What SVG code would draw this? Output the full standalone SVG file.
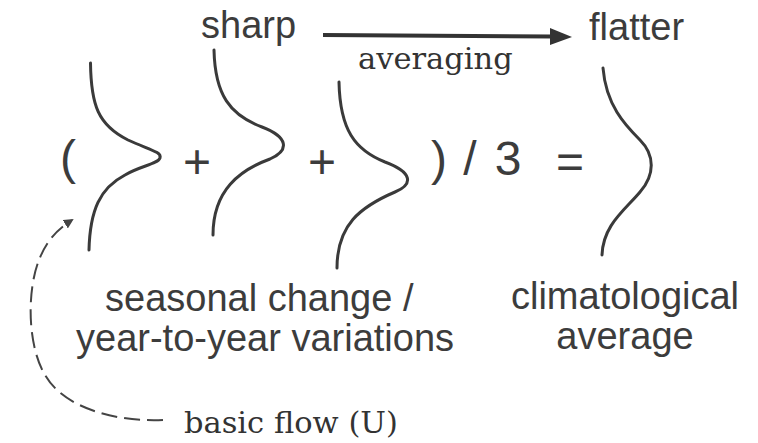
<svg xmlns="http://www.w3.org/2000/svg" width="758" height="443" viewBox="0 0 758 443">
<style>
.sans{font-family:"Liberation Sans",Arial,sans-serif;font-size:38px;fill:#3c3c3c}
.op{font-family:"Liberation Sans",Arial,sans-serif;font-size:48px;fill:#3c3c3c;text-anchor:middle}
.serif{font-family:"DejaVu Serif","Liberation Serif",serif;font-size:30.5px;fill:#333}
.curve{fill:none;stroke:#3a3a3a;stroke-width:3;stroke-linecap:round}
.conn{fill:none;stroke:#333;stroke-width:4}
.dash{fill:none;stroke:#444;stroke-width:2;stroke-dasharray:16 7}
</style>
<defs>
<marker id="dhead" viewBox="0 0 10 10" refX="8" refY="5" markerWidth="10" markerHeight="10" markerUnits="userSpaceOnUse" orient="auto">
<path d="M0,0 L10,5 L0,10 Z" fill="#444"/>
</marker>
</defs>
<rect width="758" height="443" fill="#fff"/>
<g id="connectors">
<g id="averaging-arrow">
<line class="conn" x1="323" y1="35" x2="552" y2="36.5"/>
<polygon points="550,28 572,37 550,45" fill="#333"/>
</g>
<path id="basic-flow-arrow" class="dash" d="M163,420 C120,422 65,410 45,375 C27,345 27,290 39,260 C46,242 56,230 72,220" marker-end="url(#dhead)"/>
</g>
<g id="label-sharp"><text class="sans" x="201" y="38">sharp</text></g>
<g id="label-flatter"><text class="sans" x="589" y="40">flatter</text></g>
<g id="label-averaging"><text class="serif" x="358" y="69">averaging</text></g>
<g id="curve-1"><path class="curve" d="M90.5,63 C91,105 98,125 128,140 C150,150 162,152 160,158 C158,164 140,166 125,175 C100,188 90,210 89,250"/></g>
<g id="curve-2"><path class="curve" d="M214,50 C215,95 230,115 262,127 C288,137 290,150 270,159 C240,170 213,190 213,235"/></g>
<g id="curve-3"><path class="curve" d="M339,82 C340,130 355,150 385,162 C412,172 414,184 395,192 C360,207 337,225 337,268"/></g>
<g id="curve-average"><path class="curve" d="M603,68 C606,105 625,125 640,140 C655,155 655,175 640,192 C625,210 603,225 602,255"/></g>
<g id="equation">
<text class="op" x="68" y="174">(</text>
<text class="op" x="197" y="178">+</text>
<text class="op" x="322" y="178">+</text>
<text class="op" x="439" y="175">)</text>
<text class="op" x="470" y="175">/</text>
<text class="op" x="508" y="175">3</text>
<text class="op" x="570" y="178">=</text>
</g>
<g id="label-variations">
<text class="sans" x="105" y="311">seasonal change /</text>
<text class="sans" x="76" y="351">year-to-year variations</text>
</g>
<g id="label-climatological">
<text class="sans" x="625" y="309" text-anchor="middle">climatological</text>
<text class="sans" x="625" y="349" text-anchor="middle">average</text>
</g>
<g id="label-basic-flow"><text class="serif" x="184" y="433">basic flow (U)</text></g>
</svg>
